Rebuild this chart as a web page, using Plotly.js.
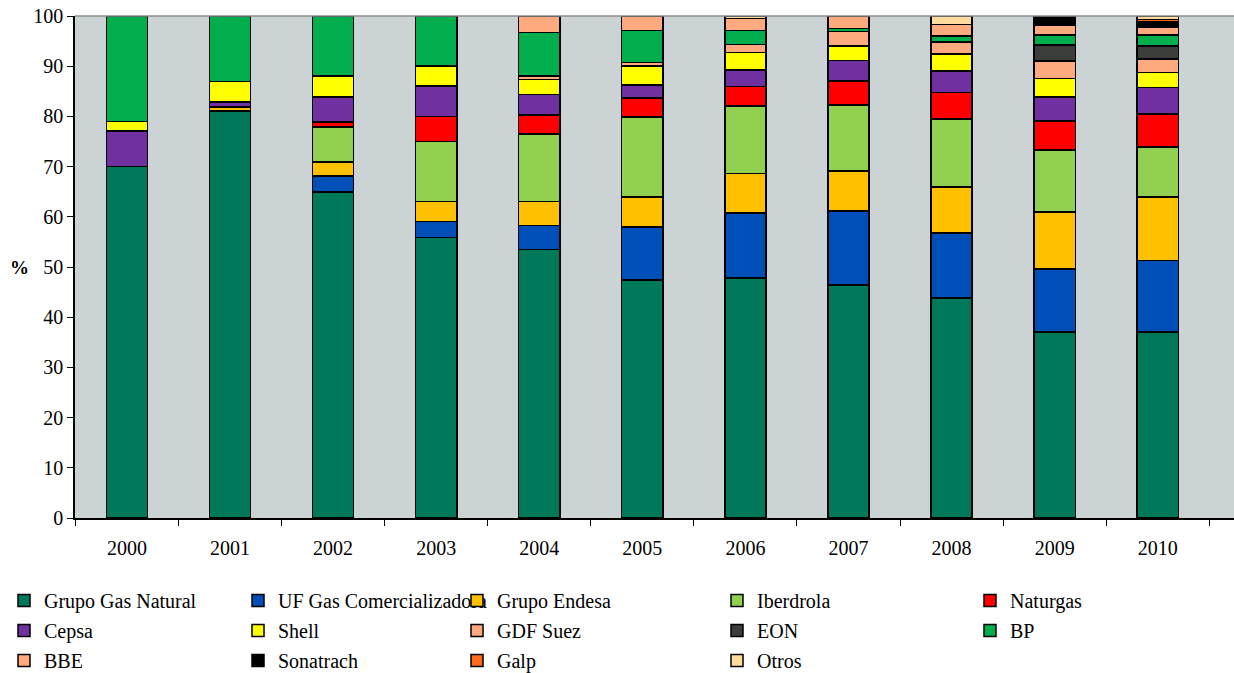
<!DOCTYPE html>
<html>
<head>
<meta charset="utf-8">
<script src="https://cdn.plot.ly/plotly-3.0.1.min.js"></script>
<style>html,body{margin:0;padding:0;background:#fff;}#chart{width:1234px;height:673px;}</style>
</head>
<body>
<div id="chart"></div>
<script>
const years = ['2000','2001','2002','2003','2004','2005','2006','2007','2008','2009','2010'];

const grupoGasNatural = [70.0, 81.1, 64.9, 55.9, 53.5, 47.4, 47.8, 46.4, 43.8, 37.1, 37.1];
const ufGas          = [0, 0, 3.2, 3.2, 4.8, 10.6, 13.0, 14.8, 13.0, 12.5, 14.2];
const grupoEndesa    = [0, 0.8, 2.8, 3.9, 4.7, 5.9, 7.8, 7.9, 9.1, 11.4, 12.6];
const iberdrola      = [0, 0, 7.0, 12.0, 13.5, 16.0, 13.5, 13.2, 13.6, 12.3, 10.0];
const naturgas       = [0, 0, 1.0, 5.0, 3.8, 3.8, 3.9, 4.8, 5.3, 5.8, 6.6];
const cepsa          = [7.1, 1.0, 5.0, 6.1, 4.1, 2.6, 3.2, 4.0, 4.2, 4.8, 5.3];
const shell          = [1.9, 4.1, 4.1, 3.9, 3.0, 3.7, 3.5, 2.9, 3.4, 3.7, 2.9];
const gdfSuez        = [0, 0, 0, 0, 0.6, 0.7, 1.6, 2.9, 2.4, 3.4, 2.7];
const eon            = [0, 0, 0, 0, 0, 0, 0, 0, 0, 3.2, 2.6];
const bp             = [21.0, 13.0, 12.0, 10.0, 8.7, 6.4, 2.8, 0.6, 1.2, 2.0, 2.2];
const bbe            = [0, 0, 0, 0, 3.3, 2.9, 2.4, 2.5, 2.3, 2.0, 1.5];
const sonatrach      = [0, 0, 0, 0, 0, 0, 0, 0, 0, 1.8, 1.2];
const galp           = [0, 0, 0, 0, 0, 0, 0, 0, 0, 0, 0.4];
const otros          = [0, 0, 0, 0, 0, 0, 0.5, 0, 1.7, 0, 0.7];

const yTicks = [0,10,20,30,40,50,60,70,80,90,100];

const series = [
  {name:'Grupo Gas Natural', y:grupoGasNatural, color:'#00785A', legend:'legend'},
  {name:'UF Gas Comercializadora', y:ufGas, color:'#004FB8', legend:'legend2'},
  {name:'Grupo Endesa', y:grupoEndesa, color:'#FFC000', legend:'legend3'},
  {name:'Iberdrola', y:iberdrola, color:'#92D050', legend:'legend4'},
  {name:'Naturgas', y:naturgas, color:'#FF0000', legend:'legend5'},
  {name:'Cepsa', y:cepsa, color:'#7030A0', legend:'legend'},
  {name:'Shell', y:shell, color:'#FFFF00', legend:'legend2'},
  {name:'GDF Suez', y:gdfSuez, color:'#FFAA7E', legend:'legend3'},
  {name:'EON', y:eon, color:'#3A3D3A', legend:'legend4'},
  {name:'BP', y:bp, color:'#00AE4E', legend:'legend5'},
  {name:'BBE', y:bbe, color:'#FFAA7E', legend:'legend'},
  {name:'Sonatrach', y:sonatrach, color:'#000000', legend:'legend2'},
  {name:'Galp', y:galp, color:'#FF6A1E', legend:'legend3'},
  {name:'Otros', y:otros, color:'#FFDC9C', legend:'legend4'}
];

const traces = series.map((s, i) => ({
  type:'bar', x:years, y:s.y, name:s.name, legend:s.legend, legendgroup:'g'+i,
  marker:{color:s.color, line:{color:'#000', width:1.5}},
  hoverinfo:'name+y'
}));

const L = 75, W = 1159;
const FAM = 'Liberation Serif, Times New Roman, DejaVu Serif, serif';
const font = {family:FAM, size:20, color:'#000'};
function lg(px){
  return {x:(px - 40 - L)/W, xanchor:'left', y:-0.1255, yanchor:'top', orientation:'v',
    font:font, bgcolor:'rgba(0,0,0,0)', tracegroupgap:1, itemclick:false, itemdoubleclick:false};
}

const layout = {
  width:1234, height:673,
  margin:{l:L, r:0, t:16, b:155, autoexpand:false},
  paper_bgcolor:'#ffffff', plot_bgcolor:'#CCD3D5',
  barmode:'stack', bargap:0.6,
  showlegend:true,
  font:{family:FAM, size:20, color:'#000'},
  xaxis:{type:'category', range:[-0.504, 10.74], tickson:'boundaries', ticks:'outside', ticklen:6,
    tickcolor:'#000', showline:true, linecolor:'#000', linewidth:1.5, showgrid:false,
    ticklabelstandoff:11,
    tickfont:{family:FAM, size:20, color:'#000'}, fixedrange:true},
  yaxis:{range:[0,100], tickvals:yTicks, ticktext:yTicks.map(String), ticks:'outside', ticklen:6,
    tickcolor:'#000', showline:true, linecolor:'#000', linewidth:1.5, showgrid:false, zeroline:false,
    tickfont:{family:FAM, size:20, color:'#000'}, fixedrange:true},
  annotations:[{text:'<b>%</b>', xref:'paper', yref:'y', x:(19 - L)/W, y:50, xanchor:'center', yanchor:'middle',
    showarrow:false, font:{family:FAM, size:19, color:'#000'}}],
  shapes:[{type:'line', xref:'paper', yref:'paper', x0:0, x1:1, y0:1, y1:1, line:{color:'#8C8C8C', width:1.5}}],
  legend:lg(44), legend2:lg(278), legend3:lg(497), legend4:lg(757), legend5:lg(1010)
};

Plotly.newPlot('chart', traces, layout, {displayModeBar:false, responsive:false});
</script>
</body>
</html>
